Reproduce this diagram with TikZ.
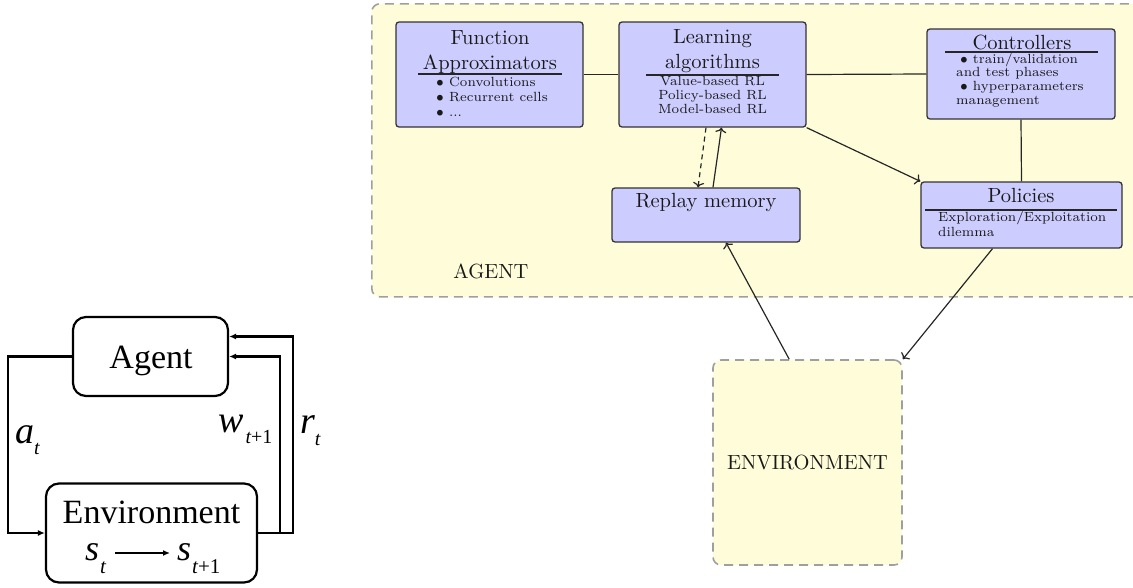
\documentclass[tikz,border=0pt]{standalone}
\usepackage{fontspec}
\usepackage{graphicx}
\newfontfamily\lfont{Liberation Serif}
\usetikzlibrary{arrows.meta,calc}
\newcommand\SB[1]{\scalebox{2.05}{#1}}
\newcommand\SBs[1]{\scalebox{1.9}{\scriptsize #1}}
\begin{document}
\begin{tikzpicture}[x=1pt,y=-1pt,
  box/.style={draw=black!80, fill=blue!20, rounded corners=3pt, line width=1.3pt, inner sep=0pt},
  dbox/.style={draw=gray!75, dash pattern=on 9pt off 6pt, fill=yellow!15, line width=1.6pt, rounded corners=8pt, inner sep=0pt},
  conn/.style={line width=1.2pt, draw=black!85},
  arr/.style={conn, -{Computer Modern Rightarrow[length=5pt,width=11pt]}},
  darr/.style={arr, dash pattern=on 5pt off 4pt},
  rulel/.style={line width=1.8pt, draw=black!85},
  txt/.style={inner sep=0pt, text=black!90},
  lbox/.style={draw, line width=2.2pt, rounded corners=13pt, inner sep=0pt},
  larr/.style={line width=2.2pt, -{Latex[length=7pt,width=6pt]}},
  ltxt/.style={inner sep=0pt, font=\lfont}
]
\useasboundingbox (0,0) rectangle (1133,587);
% ---------- right diagram ----------
\begin{scope}
\clip (0,0) rectangle (1133,587);
\node[dbox, minimum width=780pt, minimum height=293pt, anchor=north west] (agent) at (371,3) {};
\end{scope}
\node[dbox, minimum width=189pt, minimum height=205pt] (env) at (807.5,462.5) {};

\node[box, minimum width=187pt, minimum height=105pt] (fa) at (489.5,74.5) {};
\node[box, minimum width=187pt, minimum height=105pt] (la) at (712.5,74.5) {};
\node[box, minimum width=188pt, minimum height=90pt] (ctrl) at (1021,74) {};
\node[box, minimum width=201pt, minimum height=66pt] (pol) at (1021.5,215) {};
\node[box, minimum width=188pt, minimum height=54pt] (rep) at (706,215) {};

% Function approximators
\node[txt, anchor=base] (fat1) at (490,44) {\SB{Function}};
\node[txt, anchor=base] (fat2) at (490,69) {\SB{Approximators}};
\draw[rulel] (418,74) -- (562,74);
\node[txt, anchor=base west] (fai) at (436,86) {\SBs{\begin{tabular}[t]{@{}l@{}}$\bullet$ Convolutions\\ $\bullet$ Recurrent cells\\ $\bullet$ ...\end{tabular}}};

% Learning algorithms
\node[txt, anchor=base] (lat1) at (712.5,43) {\SB{Learning}};
\node[txt, anchor=base] (lat2) at (712.5,68) {\SB{algorithms}};
\draw[rulel] (646,75) -- (779,75);
\node[txt, anchor=base] (lai) at (712.5,85) {\SBs{\def\arraystretch{0.95}\begin{tabular}[t]{@{}c@{}}Value-based RL\\ Policy-based RL\\ Model-based RL\end{tabular}}};

% Controllers
\node[txt, anchor=base] (ct1) at (1022,49) {\SB{Controllers}};
\draw[rulel] (945,52) -- (1098,52);
\node[txt, anchor=base west] (cti) at (956,63) {\SBs{\def\arraystretch{0.92}\begin{tabular}[t]{@{}l@{}}\hspace*{2pt}$\bullet$ train/validation\\ and test phases\\ \hspace*{2pt}$\bullet$ hyperparameters\\ management\end{tabular}}};

% Policies
\node[txt, anchor=base] (po1) at (1021,202) {\SB{Policies}};
\draw[rulel] (925,210) -- (1117,210);
\node[txt, anchor=base west] (poi) at (938,221) {\SBs{\begin{tabular}[t]{@{}l@{}}Exploration/Exploitation\\ dilemma\end{tabular}}};

% Replay memory
\node[txt, anchor=base] (re1) at (706,207) {\SB{Replay memory}};

% labels
\node[txt, anchor=base] (agl) at (491,278) {\SB{AGENT}};
\node[txt, anchor=base] (enl) at (807.5,469) {\SB{ENVIRONMENT}};

% connectors
\draw[conn] (fa.east) -- (la.west);
\draw[conn] (la.east) -- (ctrl.west);
\draw[conn] (ctrl.south) -- (pol.north);
\draw[arr] (la.south east) -- (pol.north west);
\draw[darr] ($(la.south)+(-6.5,0)$) -- ($(rep.north)+(-8,0)$);
\draw[arr] ($(rep.north)+(7,0)$) -- ($(la.south)+(9,0)$);
\draw[arr] ($(env.north west)+(77,0)$) -- ($(rep.south)+(20,0)$);
\draw[arr] ($(pol.south)+(-29,0)$) -- (env.north east);

% ---------- left diagram ----------
\node[lbox, minimum width=155pt, minimum height=79pt] (ag) at (150.5,356.5) {};
\node[lbox, minimum width=211pt, minimum height=99pt] (en) at (151.5,533) {};
\node[ltxt, anchor=base] (agtxt) at (151,368) {\fontsize{34}{40}\selectfont Agent};
\node[ltxt, anchor=base] (entxt) at (151.5,523) {\fontsize{34}{40}\selectfont Environment};
\node[ltxt, anchor=base west] (st) at (85,560) {\fontsize{36}{40}\selectfont\itshape s\kern1pt\raisebox{-13pt}{\fontsize{21}{24}\selectfont t}};
\node[ltxt, anchor=base west] (st1) at (177,560) {\fontsize{36}{40}\selectfont\itshape s\kern1pt\raisebox{-13pt}{\fontsize{21}{24}\selectfont t\upshape+1}};
\coordinate (arS) at (115,553);
\coordinate (arE) at (170,553);
\draw[line width=1.4pt, -{Latex[length=7pt,width=6pt]}] (arS) -- (arE);

\draw[larr] (ag.west) -- ++(-64,0) |- (en.west);
\draw[larr] (en.east) -- ++(22,0) |- (ag.east);
\draw[larr] (en.east) -- ++(35,0) |- ($(ag.east)+(0,-20)$);

\node[ltxt, anchor=base west] (la1) at (15,443) {\fontsize{38}{40}\selectfont\itshape a\raisebox{-11pt}{\fontsize{20}{22}\selectfont t}};
\node[ltxt, anchor=base west] (lw) at (218,432) {\fontsize{38}{40}\selectfont\itshape w\kern2pt\raisebox{-11pt}{\fontsize{20}{22}\selectfont t\upshape+1}};
\node[ltxt, anchor=base west] (lr) at (300,433) {\fontsize{38}{40}\selectfont\itshape r\raisebox{-12pt}{\fontsize{20}{22}\selectfont t}};
\end{tikzpicture}
\end{document}
